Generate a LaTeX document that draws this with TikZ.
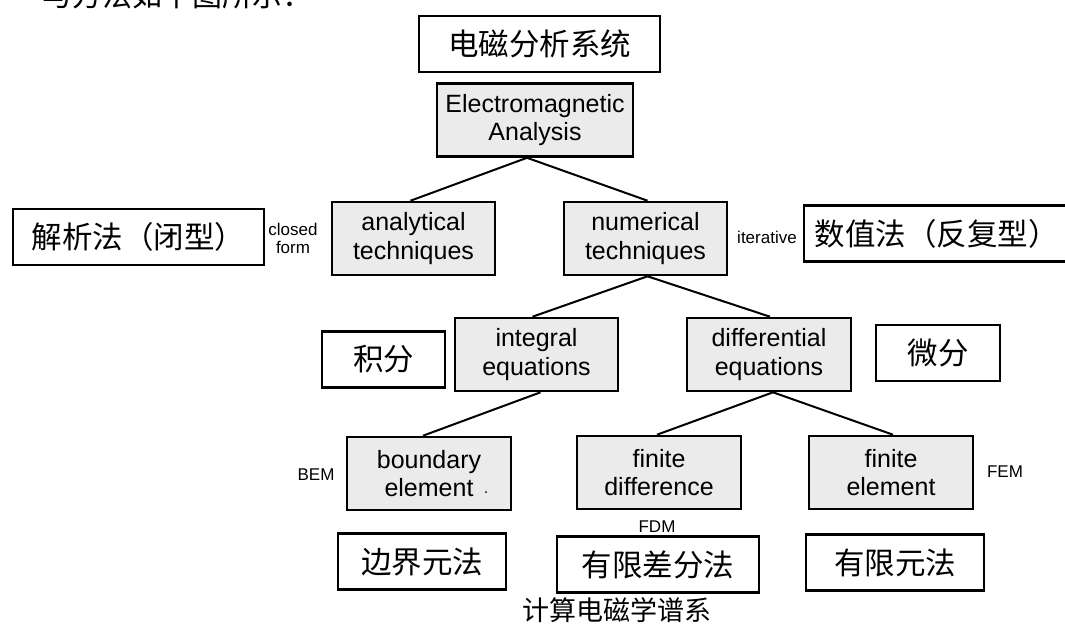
\documentclass[tikz,border=0pt]{standalone}
\usepackage{fontspec}
\setmainfont{Liberation Sans}
\newfontfamily\cjk{Noto Sans CJK SC}
\definecolor{boxgrey}{HTML}{EBEBEB}
\begin{document}
\begin{tikzpicture}[x=1pt,y=-1pt,
  gbox/.style={draw, line width=2.6pt, fill=boxgrey, inner sep=0pt, align=center,
    minimum width=163pt, minimum height=73pt, font=\fontsize{25}{28.5}\selectfont},
  cbox/.style={draw, line width=2.2pt, fill=white, inner sep=0pt,
    minimum height=56pt, font=\cjk\fontsize{30.5}{36}\selectfont},
  small/.style={font=\fontsize{17}{18}\selectfont, align=center, inner sep=0pt},
  link/.style={line width=2pt}]
\path[use as bounding box] (0,0) rectangle (1065,633);
\clip (0,0) rectangle (1065,633);

% clipped sentence fragment at the top
\node[anchor=base west, inner sep=0pt, font=\cjk\fontsize{30}{36}\selectfont] (intro) at (42,6) {与方法如下图所示：};

% Chinese label boxes
\node[cbox, minimum width=241pt] (title) at (539.5,44) {电磁分析系统};
\node[cbox, minimum width=251pt] (jx) at (138.5,237) {解析法（闭型）};
\node[cbox, minimum width=265pt] (sz) at (936.5,233.5) {数值法（反复型）};
\node[cbox, minimum width=123pt] (jf) at (383.5,359.5) {积分};
\node[cbox, minimum width=124pt] (wf) at (938,353) {微分};
\node[cbox, minimum width=168pt] (bjy) at (422,561.5) {边界元法};
\node[cbox, minimum width=202pt] (yxc) at (658,564.5) {有限差分法};
\node[cbox, minimum width=178pt] (yxy) at (895,562.5) {有限元法};

% grey technique boxes
\node[gbox, minimum width=196pt] (ea) at (535,120) {Electromagnetic\\Analysis};
\node[gbox] (ana) at (413.5,238.5) {analytical\\techniques};
\node[gbox] (num) at (645.5,238.5) {numerical\\techniques};
\node[gbox] (int) at (536.5,354.5) {integral\\equations};
\node[gbox, minimum width=164pt] (dif) at (769,354.5) {differential\\equations};
\node[gbox, minimum width=164pt] (bnd) at (429,473.5) {boundary\\element};
\node[gbox, minimum width=164pt] (fd) at (659,472.5) {finite\\difference};
\node[gbox, minimum width=164pt] (fe) at (891,472.5) {finite\\element};
\fill (486,492) circle (1pt);

% small annotations
\node[small] (cf) at (293,238) {closed\\form};
\node[small] (it) at (767,237) {iterative};
\node[small] (bem) at (316,475) {BEM};
\node[small] (fem) at (1005,472) {FEM};
\node[small] (fdm) at (657,527) {FDM};

% caption
\node[inner sep=0pt, font=\cjk\fontsize{27}{32}\selectfont] (cap) at (617,610) {计算电磁学谱系};

% connectors
\draw[link] ([xshift=-8pt]ea.south) -- ([xshift=-3pt]ana.north);
\draw[link] ([xshift=-8pt]ea.south) -- ([xshift=2pt]num.north);
\draw[link] ([xshift=2pt]num.south) -- ([xshift=-4pt]int.north);
\draw[link] ([xshift=2pt]num.south) -- ([xshift=1pt]dif.north);
\draw[link] ([xshift=4pt]int.south) -- ([xshift=-6pt]bnd.north);
\draw[link] ([xshift=4pt]dif.south) -- ([xshift=-2pt]fd.north);
\draw[link] ([xshift=4pt]dif.south) -- ([xshift=2pt]fe.north);
\end{tikzpicture}
\end{document}
